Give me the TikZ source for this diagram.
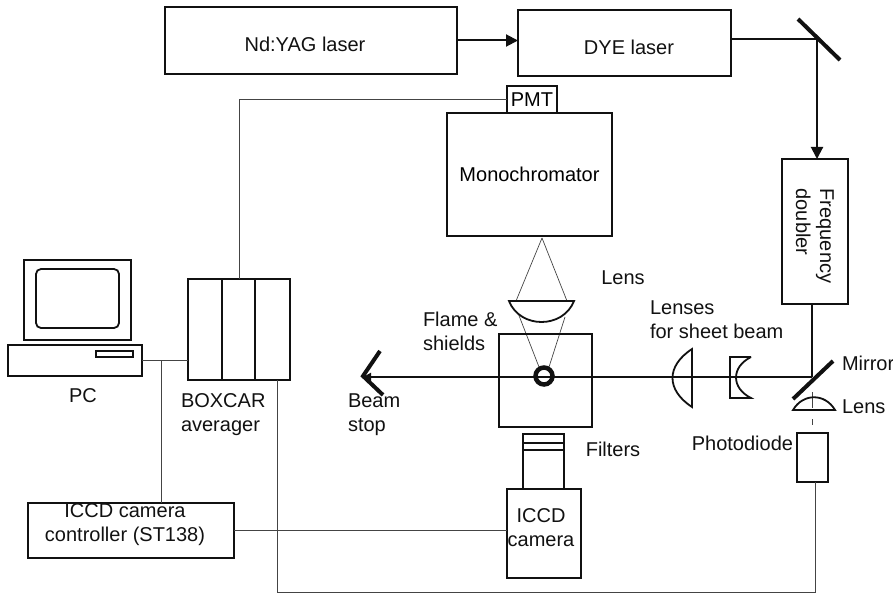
\documentclass[tikz,border=0pt]{standalone}
\usepackage{fontspec}
\setmainfont{Liberation Sans}
\usetikzlibrary{arrows.meta, positioning, calc}
\definecolor{cink}{HTML}{111111}
\definecolor{cwire}{HTML}{444444}
\tikzset{
  every picture/.style={x=1pt, y=-1pt, line join=miter},
  box/.style={draw=cink, line width=1.8pt, inner sep=0pt, outer sep=0pt, align=center, font=\fontsize{20}{24}\selectfont},
  txt/.style={inner sep=0pt, outer sep=0pt, align=left, text=cink, font=\fontsize{20}{24}\selectfont},
  beam/.style={draw=cink, line width=2pt},
  beamarrow/.style={beam, -{Stealth[length=12pt, width=12pt, inset=0pt]}},
  wire/.style={draw=cwire, line width=0.7pt},
  mirror/.style={draw=cink, line width=4pt},
  optic/.style={draw=cink, line width=1.8pt, fill=white},
}
\begin{document}
\begin{tikzpicture}
  \useasboundingbox (0,0) rectangle (893,596);
  % lasers along the top
  \node[box, minimum width=292pt, minimum height=67pt] (yag) at (311,40.5) {};
  \node[txt] (yagtext) at (305,44) {Nd:YAG laser};
  \node[box, minimum width=213pt, minimum height=66pt] (dye) at (624.5,43) {};
  \node[txt] (dyetext) at (629,47) {DYE laser};
  \coordinate (mirrorup) at (817,39);
  \coordinate (upend1) at (798,19);
  \coordinate (upend2) at (840,60);
  \node[box, minimum width=66pt, minimum height=145pt] (doubler) at (815,231.5) {};
  \node[txt, rotate=-90] (doublertext) at (815,236) {Frequency\\doubler};
  \draw[beamarrow] (yag.east) -- (yag.east -| dye.west);
  \draw[beam] (mirrorup -| dye.east) -- (mirrorup);
  \draw[beamarrow] (mirrorup) -- (mirrorup |- doubler.north);
  \draw[mirror] (upend1) -- (upend2);
  % monochromator and its lens
  \node[box, minimum width=165pt, minimum height=123pt] (mono) at (529.5,174.5) {Monochromator};
  \node[box, minimum width=50pt, minimum height=27pt, anchor=south] (pmt) at (532,113) {PMT};
  \coordinate (apex) at (542,238);
  \coordinate (flame) at (544,376);
  \draw[wire] (apex) -- (516,301);
  \draw[wire] (apex) -- (567,301);
  \draw[wire] (518,313) -- (539,367);
  \draw[wire] (565,317) -- (549,367);
  \draw[optic] (509,301) .. controls (520,329) and (563,329) .. (574,301) -- cycle;
  \node[txt] (lenstext) at (623,278) {Lens};
  % flame box and the sheet beam
  \node[box, minimum width=93pt, minimum height=93pt] (burner) at (545.5,380.5) {};
  \coordinate (mirrorlow) at (812,377);
  \coordinate (lowend1) at (793,399);
  \coordinate (lowend2) at (833,361);
  \coordinate (stoptip) at (363,376);
  \draw[beam] (mirrorlow |- doubler.south) -- (mirrorlow);
  \draw[beam, -{Stealth[length=8pt, width=8pt, inset=0pt]}] (mirrorlow) -- (mirrorlow -| stoptip);
  \draw[mirror] (380,351) -- (stoptip) -- (383,395);
  \draw[draw=cink, line width=4.5pt] (flame) circle (8.5);
  \draw[optic, fill=none] (692,349) .. controls (666,366) and (666,390) .. (692,407) -- cycle;
  \draw[optic, fill=none] (751,357) -- (730,357) -- (730,398) -- (751,398) .. controls (731,388) and (731,367) .. (751,357);
  \draw[mirror] (lowend1) -- (lowend2);
  % photodiode branch
  \draw[wire] (812,392) -- (812,408);
  \draw[wire] (812,419) -- (812,425);
  \draw[optic, fill=none] (793,410) .. controls (803,393) and (825,393) .. (835,410) -- cycle;
  \node[box, minimum width=31pt, minimum height=49pt] (diode) at (812.5,457.5) {};
  % camera with filters
  \node[box, minimum width=74pt, minimum height=89pt] (camera) at (544,533.5) {};
  \node[txt, align=center] (cameratext) at (541,528) {ICCD\\camera};
  \node[box, minimum width=41pt, minimum height=55pt] (tube) at (543.5,461.5) {};
  \foreach \y in {443,450} {
    \draw[draw=cink, line width=1.5pt] (tube.west |- 0,\y) -- (tube.east |- 0,\y);
  }
  % boxcar and PC
  \node[box, minimum width=102pt, minimum height=101pt] (boxcar) at (239,329.5) {};
  \foreach \x in {222,255} {
    \draw[draw=cink, line width=1.5pt] (\x,279) -- (\x,380);
  }
  \node[box, minimum width=107pt, minimum height=80pt] (monitor) at (77.5,300) {};
  \node[box, rounded corners=5pt, minimum width=83pt, minimum height=59pt] (screen) at (77.5,298.5) {};
  \node[box, minimum width=134pt, minimum height=31pt] (pcbase) at (75,360.5) {};
  \node[box, line width=1.4pt, minimum width=37pt, minimum height=6pt] (slot) at (114.5,354) {};
  \node[box, minimum width=206pt, minimum height=55pt] (ctrl) at (131,530.5) {};
  \node[txt, align=center] (ctrltext) at (125,525) {ICCD camera\\controller (ST138)};
  % signal wiring
  \coordinate (pcjoin) at (161,361);
  \coordinate (boxout) at (277,380);
  \coordinate (diodeout) at (815,482);
  \coordinate (bottomrun) at (815,592);
  \draw[wire] (pmt.west) -| (boxcar.north);
  \draw[wire] (pcbase.east) -- (pcbase.east -| boxcar.west);
  \draw[wire] (pcjoin) -- (pcjoin |- ctrl.north);
  \draw[wire] (ctrl.east) -- (ctrl.east -| camera.west);
  \draw[wire] (boxout) |- (bottomrun) -- (diodeout);
  % remaining labels
  \node[txt] (pctext) at (83,396) {PC};
  \node[txt, anchor=west] (boxcartext) at (181,415) {BOXCAR\\averager};
  \node[txt, anchor=west] (stoptext) at (348,415) {Beam\\stop};
  \node[txt, anchor=west] (flametext) at (423,331) {Flame \&\\shields};
  \node[txt, anchor=west] (sheettext) at (650,320) {Lenses\\for sheet beam};
  \node[txt, anchor=west] (mirrortext) at (842,363) {Mirror};
  \node[txt, anchor=west] (lowlenstext) at (842,407) {Lens};
  \node[txt, anchor=east] (diodetext) at (793,443) {Photodiode};
  \node[txt] (filtertext) at (613,449) {Filters};
\end{tikzpicture}
\end{document}
